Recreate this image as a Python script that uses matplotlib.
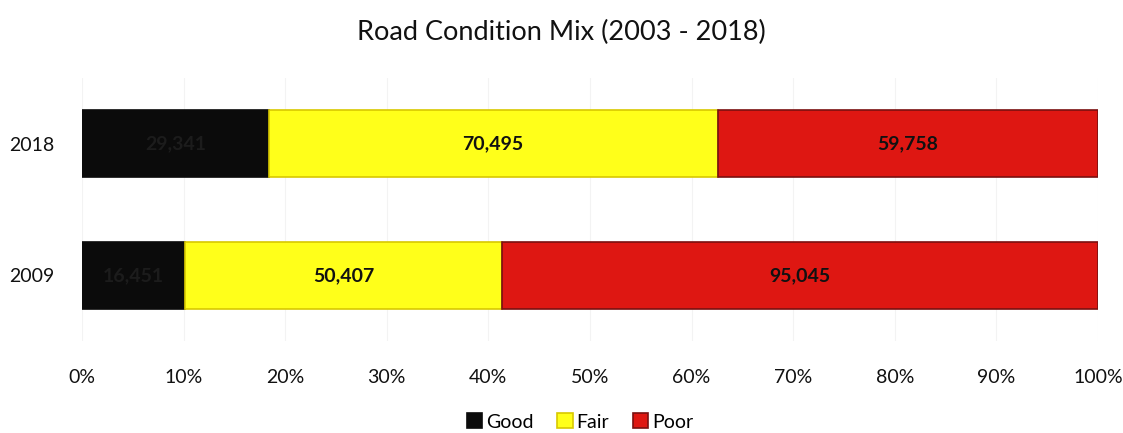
import numpy as np
import matplotlib
matplotlib.use("Agg")
import matplotlib.pyplot as plt
from matplotlib.ticker import PercentFormatter

plt.rcParams['font.family'] = ['Lato', 'DejaVu Sans']

years = ['2009', '2018']
good = np.array([16451, 29341])
fair = np.array([50407, 70495])
poor = np.array([95045, 59758])

series = [('Good', good, '#0b0b0b', '#0b0b0b', '#1c1c1c'),
          ('Fair', fair, '#ffff1a', '#d8c800', '#111111'),
          ('Poor', poor, '#de1712', '#7a1010', '#111111')]

totals = good + fair + poor

fig = plt.figure(figsize=(11.23, 4.33), dpi=100)
ax = fig.add_axes([82 / 1123, 1 - 341 / 433, 1016 / 1123, 263 / 433])

y = np.arange(len(years))
left = np.zeros(len(years))
handles = []
for name, vals, fc, ec, tc in series:
    frac = vals / totals
    b = ax.barh(y, frac, left=left, height=0.51, color=fc, edgecolor=ec,
                linewidth=1.2, label=name, zorder=3)
    handles.append(b)
    for yi, l, f, v in zip(y, left, frac, vals):
        ax.text(l + f / 2, yi, f'{v:,}', ha='center', va='center',
                fontsize=14, fontweight='bold', color=tc, zorder=4)
    left = left + frac

ax.set_xlim(0, 1)
ax.set_ylim(-0.5, 1.5)
ax.set_xticks(np.linspace(0, 1, 11))
ax.xaxis.set_major_formatter(PercentFormatter(1.0, decimals=0))
ax.set_yticks(y)
ax.set_yticklabels(years)
ax.tick_params(axis='both', length=0, labelsize=14, colors='#111111')
ax.tick_params(axis='x', pad=20)
ax.tick_params(axis='y', pad=20)
ax.grid(axis='x', color='#f3f3f3', linewidth=0.8, zorder=0)
for s in ax.spines.values():
    s.set_visible(False)

fig.suptitle('Road Condition Mix (2003 - 2018)', y=1 - 32 / 433, va='center',
             fontsize=19.5, color='#111111')

fig.legend(handles=handles, labels=[s[0] for s in series], loc='center',
           bbox_to_anchor=(580 / 1123, 1 - 422 / 433), ncol=3, frameon=False,
           fontsize=14, handlelength=0.8, handleheight=0.8, handletextpad=0.2,
           columnspacing=1.2)

fig.savefig('out.png', dpi=100)
